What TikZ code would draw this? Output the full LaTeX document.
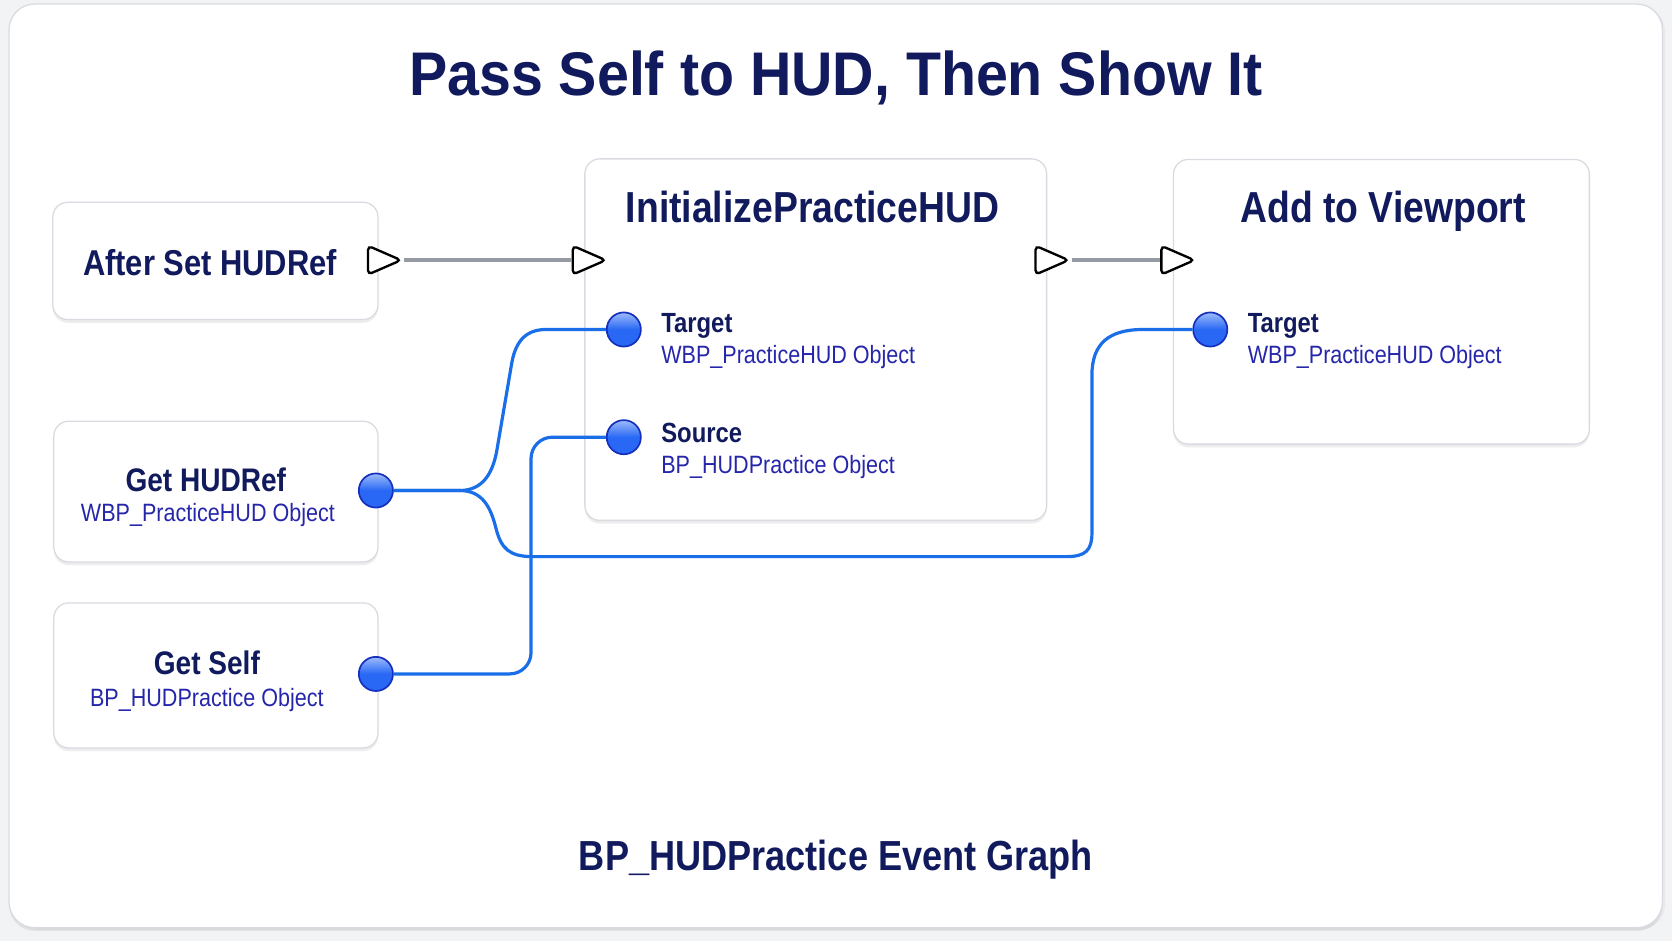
\documentclass[tikz,border=0pt]{standalone}
\usepackage{fontspec}
\setmainfont{Liberation Sans}
\newfontfamily\titlefont{Liberation Sans}[FakeStretch=0.93]
\newfontfamily\nodefont{Liberation Sans}[FakeStretch=0.86]
\usepackage{color}
\definecolor{mynavy}{RGB}{16,26,92}
\definecolor{mytypeblue}{RGB}{38,38,170}
\definecolor{mywire}{RGB}{26,111,232}
\definecolor{mypin}{RGB}{40,104,245}
\definecolor{mypinedge}{RGB}{22,48,190}
\definecolor{myexec}{RGB}{150,154,162}
\definecolor{myline}{RGB}{216,219,225}
\definecolor{mybg}{RGB}{242,243,245}
\usepackage{tikz}
\usetikzlibrary{shapes.geometric,shadows,positioning}
\tikzstyle{box}=[draw=myline,fill=white,rounded corners=14pt,line width=1.2pt,drop shadow={opacity=0.14,shadow xshift=0pt,shadow yshift=-3pt}]
\tikzstyle{pin}=[circle,draw=mypinedge,line width=1.6pt,top color=mypin!45!white,bottom color=mypin,middle color=mypin,minimum size=32pt,inner sep=0pt]
\tikzstyle{exec}=[isosceles triangle,isosceles triangle stretches,minimum width=27pt,minimum height=31pt,inner sep=0pt,draw=black,fill=white,line width=2.2pt,rounded corners=4pt]
\tikzstyle{execwire}=[draw=myexec,line width=3.5pt]
\tikzstyle{datawire}=[draw=mywire,line width=3pt]
\tikzstyle{pinname}=[anchor=base west,inner sep=0pt,text=mynavy,font=\nodefont\bfseries\fontsize{26}{30}\selectfont]
\tikzstyle{pintype}=[anchor=base west,inner sep=0pt,text=mytypeblue,font=\nodefont\fontsize{23.5}{28}\selectfont]
\tikzset{nodetitle/.style={anchor=base,text=mynavy,font=\nodefont\bfseries\fontsize{#1}{#1}\selectfont}}
\begin{document}
\begin{tikzpicture}[x=1pt,y=-1pt]
\fill[mybg] (0,0) rectangle (1568,882);
\useasboundingbox (0,0) rectangle (1568,882);
\draw[box,rounded corners=24pt,drop shadow={opacity=0.08,shadow yshift=-2pt}] (8.5,3.8) rectangle (1559,870);
\draw (784,90) node [anchor=base,text=mynavy,font=\titlefont\bfseries\fontsize{57.8}{60}\selectfont] (title) {Pass Self to HUD, Then Show It};

% event and function nodes
\draw (202,244.7) node [box,minimum width=305pt,minimum height=110pt] (after) {};
\draw (765,318.5) node [box,minimum width=433pt,minimum height=339pt] (init) {};
\draw (1295.5,283) node [box,minimum width=390pt,minimum height=267pt] (view) {};
\draw (202.5,461) node [box,minimum width=304pt,minimum height=132pt] (gethud) {};
\draw (202.5,633.4) node [box,minimum width=304pt,minimum height=136pt] (getself) {};

\draw (197,258) node [nodetitle=33.7] (aftertext) {After Set HUDRef};
\draw (762,209) node [nodetitle=40.7] (inittext) {InitializePracticeHUD};
\draw (1297,209) node [nodetitle=40.7] (viewtext) {Add to Viewport};
\draw (193,461) node [nodetitle=30.6] (gethudtext) {Get HUDRef};
\draw (195,489.5) node [pintype,anchor=base] (gethudtype) {WBP\_PracticeHUD Object};
\draw (194,632.5) node [nodetitle=30.6] (getselftext) {Get Self};
\draw (194,663) node [pintype,anchor=base] (getselftype) {BP\_HUDPractice Object};

% pin labels
\draw (620,312) node [pinname] (itargetname) {Target};
\draw (620,341) node [pintype] (itargettype) {WBP\_PracticeHUD Object};
\draw (620,415) node [pinname] (isourcename) {Source};
\draw (620,444) node [pintype] (isourcetype) {BP\_HUDPractice Object};
\draw (1170,312) node [pinname] (vtargetname) {Target};
\draw (1170,341) node [pintype] (vtargettype) {WBP\_PracticeHUD Object};

% exec pins
\draw (344,244) node [exec,anchor=west] (afterout) {};
\draw (536,244) node [exec,anchor=west] (initin) {};
\draw (970,244) node [exec,anchor=west] (initout) {};
\draw (1088,244) node [exec,anchor=west] (viewin) {};
\draw[execwire] (afterout) -- (initin);
\draw[execwire] (initout) -- (viewin);

% data pins
\draw (585,309) node [pin] (itarget) {};
\draw (585,410) node [pin] (isource) {};
\draw (1135,309) node [pin] (vtarget) {};
\draw (352.5,460) node [pin] (hudout) {};
\draw (352.5,632) node [pin] (selfout) {};
\draw[datawire] (hudout) -- (431,460) .. controls (452,460) and (462,445) .. (466,422) -- (480,340) .. controls (484,318) and (495,309) .. (512,309) -- (itarget);
\draw[datawire] (hudout) -- (431,460) .. controls (452,460) and (460,475) .. (465,495) .. controls (470,515) and (478,522) .. (500,522) -- (1000,522) .. controls (1018,522) and (1024,516) .. (1024,500) -- (1024,352) .. controls (1024,322) and (1040,309) .. (1072,309) -- (vtarget);
\draw[datawire,rounded corners=20pt] (selfout) -| (498,410) -- (isource);

\draw (784,816) node [nodetitle=39.4] (footer) {BP\_HUDPractice Event Graph};
\end{tikzpicture}
\end{document}
